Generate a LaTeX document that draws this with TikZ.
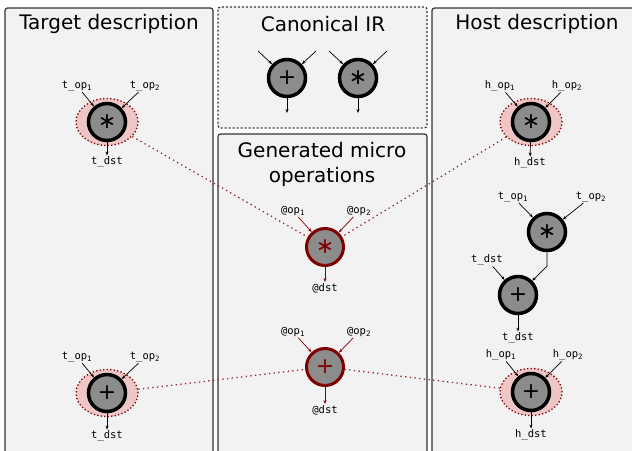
\documentclass[tikz,border=0pt]{standalone}
\usepackage{fontspec}
\setmainfont{DejaVu Sans}
\setmonofont{DejaVu Sans Mono}
\usetikzlibrary{arrows.meta,positioning,shapes.geometric}
\definecolor{panelbg}{HTML}{F2F2F2}
\definecolor{panelln}{HTML}{333333}
\definecolor{opgray}{HTML}{8C8C8C}
\definecolor{ddred}{HTML}{800000}
\definecolor{halored}{HTML}{EEC6C6}
\newcommand{\mulop}{∗}
\newcommand{\opi}[2]{#1\_op\textsubscript{#2}}

\begin{document}
\begin{tikzpicture}[x=1pt, y=-1pt,
  panel/.style ={draw=panelln, line width=1.2pt, fill=panelbg, rounded corners=2.5pt},
  ttl/.style   ={font=\fontsize{20}{25}\selectfont, align=center},
  opN/.style   ={circle, draw=black, line width=3.5pt, fill=opgray, minimum size=37pt, inner sep=0pt, font=\fontsize{22}{22}\selectfont},
  genN/.style  ={opN, draw=ddred, line width=3pt, text=ddred},
  halo/.style  ={ellipse, draw=ddred, fill=halored, line width=1.3pt, dash pattern=on 1.3pt off 2.2pt, minimum width=62pt, minimum height=47pt, inner sep=0pt},
  lbl/.style   ={font=\ttfamily\fontsize{10.5}{12}\selectfont, inner sep=1pt},
  arr/.style   ={-{Stealth[length=4pt,width=3pt]}, line width=0.7pt},
  genArr/.style={arr, draw=ddred},
  link/.style  ={draw=ddred!85, line width=1.3pt, dash pattern=on 1.3pt off 3.4pt},
]
\useasboundingbox (0,0) rectangle (632,450);
\fill[white] (0,0) rectangle (632,450);

% panels
\draw[panel] (5,8) rectangle (213,470);
\draw[panel, dash pattern=on 2pt off 2pt] (218,7) rectangle (427,128);
\draw[panel] (218,134) rectangle (427,470);
\draw[panel] (432,8) rectangle (650,470);

\node[ttl] (tTitle) at (109,24) {Target description};
\node[ttl] (cTitle) at (323,24) {Canonical IR};
\node[ttl] (gTitle) at (322,164) {Generated micro\\operations};
\node[ttl] (hTitle) at (537,24) {Host description};

% target description
\node[halo] (tmulH) at (107,122) {};
\node[opN]  (tmul)  at (107,122) {\mulop};
\node[lbl] (tmulA) at (77,86)  {\opi{t}{1}};
\node[lbl] (tmulB) at (145,86) {\opi{t}{2}};
\node[lbl] (tmulD) at (107,162) {t\_dst};
\draw[arr] (tmulA) -- (tmul);
\draw[arr] (tmulB) -- (tmul);
\draw[arr] (tmul) -- (tmulD);

\node[halo] (taddH) at (107,393) {};
\node[opN]  (tadd)  at (107,393) {+};
\node[lbl] (taddA) at (77,357)  {\opi{t}{1}};
\node[lbl] (taddB) at (145,357) {\opi{t}{2}};
\node[lbl] (taddD) at (107,436) {t\_dst};
\draw[arr] (taddA) -- (tadd);
\draw[arr] (taddB) -- (tadd);
\draw[arr] (tadd) -- (taddD);

% canonical IR
\node[opN] (cadd) at (287,78) {+};
\node[opN] (cmul) at (358,78) {\mulop};
\coordinate (caddA) at (258,51);
\coordinate (caddB) at (316,51);
\coordinate (caddD) at (287,113);
\coordinate (cmulA) at (329,51);
\coordinate (cmulB) at (387,51);
\coordinate (cmulD) at (358,113);
\draw[arr] (caddA) -- (cadd);
\draw[arr] (caddB) -- (cadd);
\draw[arr] (cadd) -- (caddD);
\draw[arr] (cmulA) -- (cmul);
\draw[arr] (cmulB) -- (cmul);
\draw[arr] (cmul) -- (cmulD);

% host description
\node[halo] (hmulH) at (531,122) {};
\node[opN]  (hmul)  at (531,122) {\mulop};
\node[lbl] (hmulA) at (500,86)  {\opi{h}{1}};
\node[lbl] (hmulB) at (567,86)  {\opi{h}{2}};
\node[lbl] (hmulD) at (530,163) {h\_dst};
\draw[arr] (hmulA) -- (hmul);
\draw[arr] (hmulB) -- (hmul);
\draw[arr] (hmul) -- (hmulD);

\node[opN] (emul) at (547,232) {\mulop};
\node[lbl] (emulA) at (513,197) {\opi{t}{1}};
\node[lbl] (emulB) at (591,197) {\opi{t}{2}};
\node[opN] (eadd) at (518,295) {+};
\node[lbl] (eaddA) at (487,260) {t\_dst};
\node[lbl] (eaddD) at (518,338) {t\_dst};
\coordinate (ebend) at (547,266);
\draw[arr] (emulA) -- (emul);
\draw[arr] (emulB) -- (emul);
\draw[arr] (emul) -- (ebend) -- (eadd);
\draw[arr] (eaddA) -- (eadd);
\draw[arr] (eadd) -- (eaddD);

\node[halo] (haddH) at (531,392) {};
\node[opN]  (hadd)  at (531,392) {+};
\node[lbl] (haddA) at (501,355) {\opi{h}{1}};
\node[lbl] (haddB) at (568,355) {\opi{h}{2}};
\node[lbl] (haddD) at (531,435) {h\_dst};
\draw[arr] (haddA) -- (hadd);
\draw[arr] (haddB) -- (hadd);
\draw[arr] (hadd) -- (haddD);

% generated micro operations
\node[genN] (gmul) at (325,247) {\mulop};
\node[lbl] (gmulA) at (293,211) {@op\textsubscript{1}};
\node[lbl] (gmulB) at (359,211) {@op\textsubscript{2}};
\node[lbl] (gmulD) at (325,288) {@dst};
\draw[genArr] (gmulA) -- (gmul);
\draw[genArr] (gmulB) -- (gmul);
\draw[genArr] (gmul) -- (gmulD);

\node[genN] (gadd) at (325,367) {+};
\node[lbl] (gaddA) at (293,332) {@op\textsubscript{1}};
\node[lbl] (gaddB) at (359,332) {@op\textsubscript{2}};
\node[lbl] (gaddD) at (325,410) {@dst};
\draw[genArr] (gaddA) -- (gadd);
\draw[genArr] (gaddB) -- (gadd);
\draw[genArr] (gadd) -- (gaddD);

% matches
\draw[link] (tmulH) -- (gmul);
\draw[link] (hmulH) -- (gmul);
\draw[link] (taddH) -- (gadd);
\draw[link] (haddH) -- (gadd);
\end{tikzpicture}
\end{document}
